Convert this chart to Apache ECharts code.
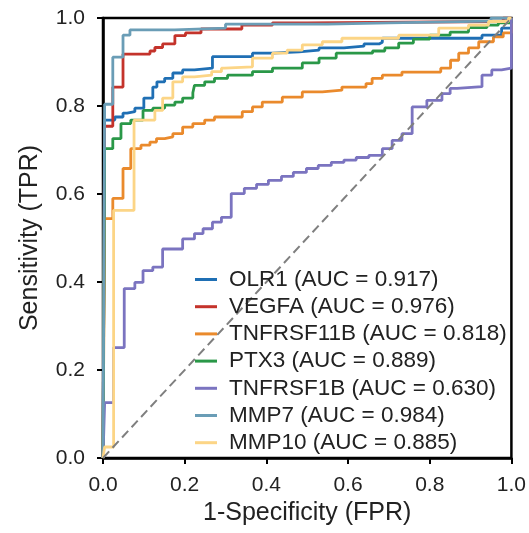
<!DOCTYPE html>
<html>
<head>
<meta charset="utf-8"/>
<style>
    html, body {
        margin: 0;
        padding: 0;
        background: #fff;
    }

    #main {
        width: 529px;
        height: 533px;
    }
</style>
</head>
<body>
<div id="main"></div>
<script src="https://cdn.jsdelivr.net/npm/echarts@6/dist/echarts.min.js"></script>
<script>
    // genes, AUC values and colours, in legend order
    var genes = ["OLR1", "VEGFA", "TNFRSF11B", "PTX3", "TNFRSF1B", "MMP7", "MMP10"];
    var aucs = ["0.917", "0.976", "0.818", "0.889", "0.630", "0.984", "0.885"];
    var colors = ["#1f6fb4", "#c4332b", "#ea8a2c", "#2a9848", "#7b74c0", "#6a9db6", "#fcd586"];

    // ROC curves as [FPR, TPR] : at each FPR the TPR steps up to the given value
    var olr1 = [[0, 0], [0.004, 0.768], [0.029, 0.775], [0.049, 0.784], [0.059, 0.787], [0.078, 0.795],
        [0.100, 0.818], [0.122, 0.843], [0.132, 0.855], [0.151, 0.863], [0.171, 0.875], [0.195, 0.882],
        [0.224, 0.886], [0.268, 0.912], [0.366, 0.920], [0.415, 0.923], [0.480, 0.927], [0.529, 0.932],
        [0.590, 0.936], [0.639, 0.941], [0.676, 0.945], [0.684, 0.954], [0.928, 0.961], [0.976, 0.977],
        [1, 1]];
    var vegfa = [[0, 0], [0.004, 0.754], [0.024, 0.843], [0.049, 0.918], [0.115, 0.925], [0.127, 0.933],
        [0.146, 0.941], [0.176, 0.960], [0.202, 0.966], [0.240, 0.975], [0.340, 0.984], [0.415, 0.989],
        [0.500, 0.992], [0.980, 1], [1, 1]];
    var tnfrsf11b = [[0, 0], [0.004, 0.544], [0.024, 0.590], [0.049, 0.658], [0.068, 0.703], [0.093, 0.711],
        [0.115, 0.718], [0.131, 0.726], [0.151, 0.730], [0.171, 0.737], [0.195, 0.752], [0.220, 0.760],
        [0.249, 0.768], [0.273, 0.775], [0.341, 0.787], [0.366, 0.798], [0.390, 0.809], [0.439, 0.820],
        [0.488, 0.832], [0.537, 0.836], [0.585, 0.843], [0.644, 0.851], [0.659, 0.863], [0.684, 0.870],
        [0.732, 0.877], [0.827, 0.886], [0.851, 0.904], [0.871, 0.920], [0.895, 0.932], [0.920, 0.946],
        [0.956, 0.957], [0.980, 0.966], [1, 1]];
    var ptx3 = [[0, 0], [0.004, 0.703], [0.024, 0.726], [0.044, 0.760], [0.068, 0.768], [0.098, 0.790],
        [0.122, 0.795], [0.151, 0.802], [0.176, 0.809], [0.195, 0.818], [0.220, 0.830], [0.224, 0.847],
        [0.249, 0.855], [0.273, 0.863], [0.305, 0.870], [0.366, 0.878], [0.415, 0.886], [0.488, 0.898],
        [0.529, 0.909], [0.571, 0.920], [0.660, 0.925], [0.690, 0.932], [0.724, 0.943], [0.760, 0.952],
        [0.800, 0.961], [0.850, 0.968], [0.895, 0.978], [0.940, 0.984], [0.968, 0.989], [1, 1]];
    var tnfrsf1b = [[0, 0], [0.004, 0.126], [0.026, 0.251], [0.052, 0.385], [0.078, 0.399], [0.098, 0.426],
        [0.122, 0.434], [0.146, 0.475], [0.195, 0.498], [0.224, 0.510], [0.245, 0.521], [0.268, 0.536],
        [0.290, 0.547], [0.314, 0.601], [0.346, 0.613], [0.376, 0.622], [0.405, 0.631], [0.437, 0.640],
        [0.466, 0.649], [0.498, 0.658], [0.527, 0.665], [0.559, 0.672], [0.590, 0.677], [0.620, 0.683],
        [0.651, 0.688], [0.684, 0.703], [0.708, 0.722], [0.732, 0.737], [0.757, 0.798], [0.793, 0.813],
        [0.830, 0.828], [0.850, 0.840], [0.867, 0.844], [0.928, 0.870], [0.952, 0.882], [0.976, 0.886],
        [1, 1]];
    var mmp7 = [[0, 0], [0.004, 0.804], [0.024, 0.911], [0.049, 0.961], [0.066, 0.973], [0.176, 0.977],
        [0.300, 0.986], [0.550, 0.989], [0.700, 0.993], [0.950, 1], [1, 1]];
    var mmp10 = [[0, 0], [0.004, 0.025], [0.026, 0.563], [0.076, 0.768], [0.127, 0.790], [0.146, 0.818],
        [0.171, 0.855], [0.195, 0.866], [0.224, 0.870], [0.266, 0.878], [0.290, 0.886], [0.298, 0.889],
        [0.366, 0.909], [0.415, 0.920], [0.451, 0.927], [0.488, 0.939], [0.537, 0.946], [0.585, 0.954],
        [0.724, 0.961], [0.822, 0.977], [0.895, 0.984], [0.944, 0.992], [0.993, 1], [1, 1]];
    var curves = [olr1, vegfa, tnfrsf11b, ptx3, tnfrsf1b, mmp7, mmp10];

    var chance = [[0, 0], [1, 1]];

    var font = "'Liberation Sans', Arial, sans-serif";
    var labels = [];
    var series = [{
        type: "line",
        data: chance,
        symbol: "none",
        silent: true,
        lineStyle: {color: "#7f7f7f", width: 2, type: [9, 5]},
        z: 3
    }];
    for (var i = 0; i < genes.length; i++) {
        var label = genes[i] + " (AUC = " + aucs[i] + ")";
        labels.push(label);
        series.push({
            name: label,
            type: "line",
            step: "end",
            data: curves[i],
            symbol: "none",
            showSymbol: false,
            itemStyle: {color: colors[i]},
            lineStyle: {color: colors[i], width: 2.8},
            z: 2
        });
    }

    var chart = echarts.init(document.getElementById("main"));
    chart.setOption({
        animation: false,
        backgroundColor: "#fff",
        grid: {
            left: 103,
            right: 16,
            top: 18,
            bottom: 75,
            show: true,
            borderColor: "#000",
            borderWidth: 2.5,
            containLabel: false
        },
        legend: {
            data: labels,
            orient: "vertical",
            left: 195,
            top: 268,
            padding: 0,
            icon: "rect",
            itemWidth: 22,
            itemHeight: 3,
            itemGap: 4.2,
            selectedMode: false,
            textStyle: {
                fontFamily: font,
                fontSize: 22.5,
                color: "#222",
                lineHeight: 22.5,
                padding: [0, 0, 0, 7]
            }
        },
        xAxis: {
            type: "value",
            min: 0,
            max: 1,
            interval: 0.2,
            name: "1-Specificity (FPR)",
            nameLocation: "middle",
            nameGap: 36,
            nameTextStyle: {fontFamily: font, fontSize: 25, color: "#222"},
            axisLine: {show: true, lineStyle: {color: "#000", width: 2.5}},
            axisTick: {show: true, length: 6, lineStyle: {color: "#000", width: 2}},
            axisLabel: {
                fontFamily: font, fontSize: 21, color: "#222", margin: 17,
                formatter: function (v) { return v.toFixed(1); }
            },
            splitLine: {show: false}
        },
        yAxis: {
            type: "value",
            min: 0,
            max: 1,
            interval: 0.2,
            name: "Sensitivity (TPR)",
            nameLocation: "middle",
            nameGap: 60,
            nameTextStyle: {fontFamily: font, fontSize: 25, color: "#222"},
            axisLine: {show: true, lineStyle: {color: "#000", width: 2.5}},
            axisTick: {show: true, length: 6, lineStyle: {color: "#000", width: 2}},
            axisLabel: {
                fontFamily: font, fontSize: 21, color: "#222", margin: 18,
                formatter: function (v) { return v.toFixed(1); }
            },
            splitLine: {show: false}
        },
        series: series
    });
</script>
</body>
</html>
